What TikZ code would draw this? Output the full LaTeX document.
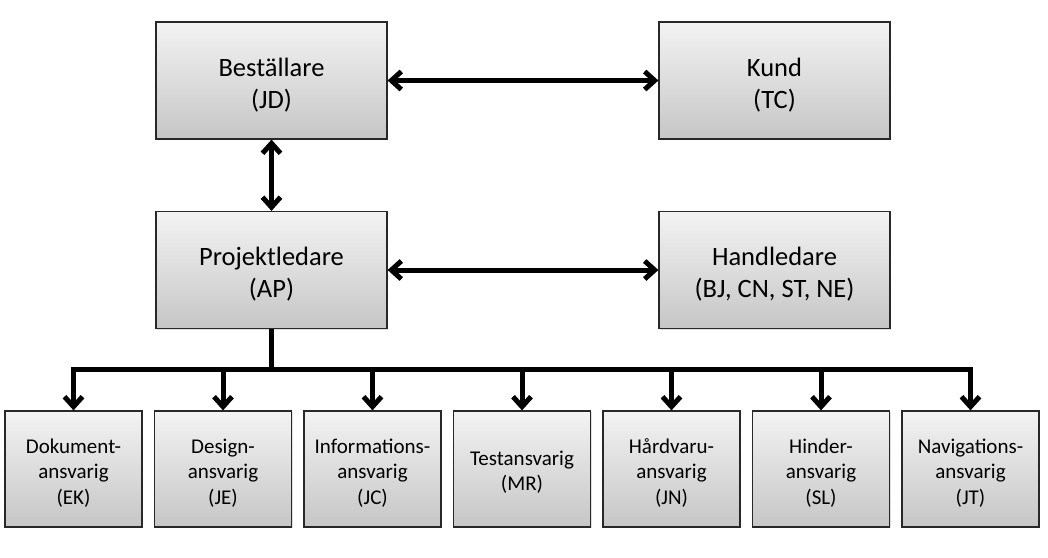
\documentclass[tikz,border=0pt]{standalone}
\usepackage{fontspec}
\setmainfont{Carlito}
\usetikzlibrary{arrows.meta,shadows,calc}
\definecolor{boxtop}{RGB}{243,243,243}
\definecolor{boxbot}{RGB}{198,198,198}
\definecolor{boxline}{RGB}{40,40,40}
\tikzset{
  box/.style={draw=boxline, line width=1.2pt, top color=boxtop, bottom color=boxbot,
    inner sep=0pt, align=center, anchor=center,
    drop shadow={opacity=0.25, shadow xshift=1.2pt, shadow yshift=-1.2pt}},
  bigbox/.style={box, minimum width=231pt, minimum height=117pt,
    font=\fontsize{26.5}{32}\selectfont, text height=60pt, text depth=5pt},
  smallbox/.style={box, minimum width=137pt, minimum height=116pt,
    font=\fontsize{21}{25.5}\selectfont, text height=75pt, text depth=5pt},
  twoline/.style={text height=48pt},
  conn/.style={line width=5pt, draw=black},
  tip/.style={-{Straight Barb[length=10pt,width=18pt]}},
  dtip/.style={{Straight Barb[length=10pt,width=18pt]}-{Straight Barb[length=10pt,width=18pt]}}
}
\begin{document}
\begin{tikzpicture}[x=1pt,y=-1pt]
\useasboundingbox (0,0) rectangle (1048,557);
\node[bigbox] (best) at (271.5,80.5) {Beställare\\(JD)};
\node[bigbox] (kund) at (774.5,80.5) {Kund\\(TC)};
\node[bigbox] (pl) at (271.5,270) {Projektledare\\(AP)};
\node[bigbox] (hl) at (774.5,270) {Handledare\\(BJ, CN, ST, NE)};

\node[smallbox] (c1) at (73.5,469) {Dokument-\\ansvarig\\(EK)};
\node[smallbox] (c2) at (223,469) {Design-\\ansvarig\\(JE)};
\node[smallbox] (c3) at (372.5,469) {Informations-\\ansvarig\\(JC)};
\node[smallbox,twoline] (c4) at (522,469) {Testansvarig\\(MR)};
\node[smallbox] (c5) at (671.5,469) {Hårdvaru-\\ansvarig\\(JN)};
\node[smallbox] (c6) at (821,469) {Hinder-\\ansvarig\\(SL)};
\node[smallbox] (c7) at (970.5,469) {Navigations-\\ansvarig\\(JT)};

\draw[conn,dtip] (best.east) -- (kund.west);
\draw[conn,dtip] (best.south) -- (pl.north);
\draw[conn,dtip] (pl.east) -- (hl.west);

\coordinate (bus) at (271.5,369);
\draw[conn] (pl.south) -- (bus);
\draw[conn,line cap=rect] (bus -| c1.north) -- (bus -| c7.north);
\foreach \c in {c1,c2,c3,c4,c5,c6,c7}{
  \draw[conn,tip] (bus -| \c.north) -- (\c.north);
}
\end{tikzpicture}
\end{document}
